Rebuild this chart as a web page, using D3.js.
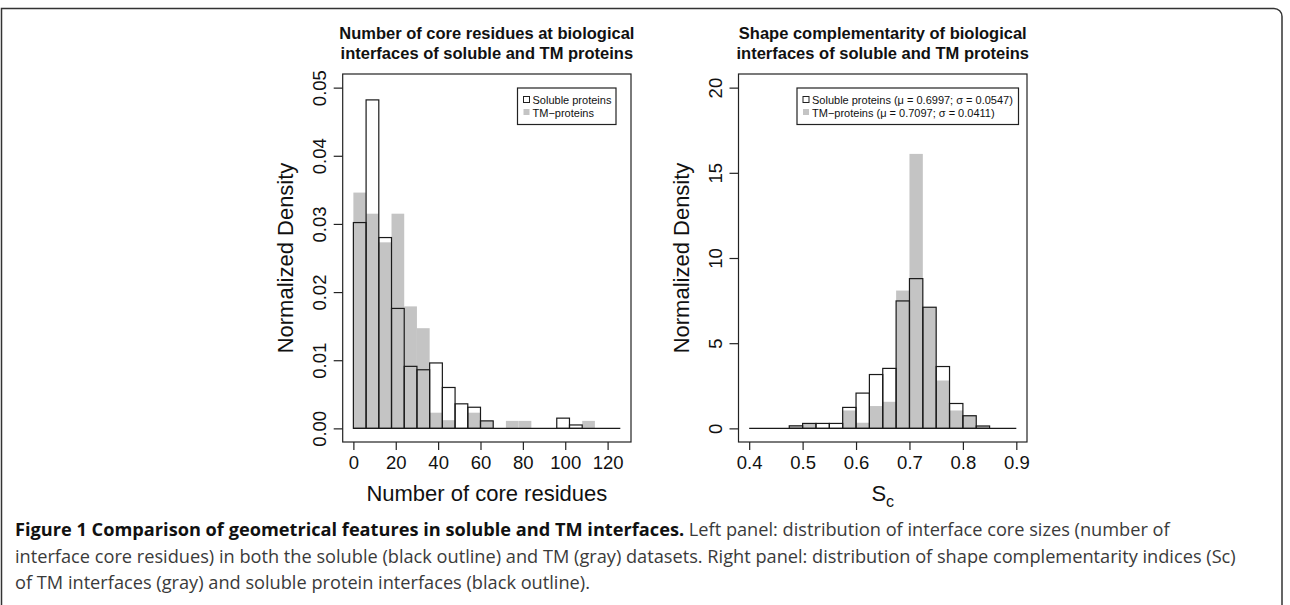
<!DOCTYPE html>
<html>
<head>
<meta charset="utf-8">
<script src="https://cdn.jsdelivr.net/npm/d3@7"></script>
<style>
  body { margin: 0; background: #fff; }
  svg text { font-family: "Liberation Sans", Arial, Helvetica, sans-serif; fill: #111; }
  .caption text { font-family: "Open Sans", sans-serif; fill: #333; }
</style>
</head>
<body>
<div id="chart"></div>
<script>
// left panel: number of core residues, bins of width 6 from 0 to 126
const coreBreaks = d3.range(0, 127, 6);
const coreSoluble = [0.0302, 0.0482, 0.0280, 0.0176, 0.0091, 0.0086, 0.0096, 0.0060, 0.0036, 0.0031,
                     0.0011, 0, 0, 0, 0, 0, 0.0015, 0.0005, 0, 0, 0];
const coreTM = [0.0346, 0.0315, 0.0273, 0.0315, 0.0179, 0.0147, 0.0023, 0.0012, 0, 0.0023,
                0.0011, 0, 0.0011, 0.0011, 0, 0, 0, 0, 0.0011, 0, 0];
const coreXTicks = [0, 20, 40, 60, 80, 100, 120];
const coreYTicks = [0, 0.01, 0.02, 0.03, 0.04, 0.05];

// right panel: shape complementarity, bins of width 0.025 from 0.4 to 0.9
const scBreaks = d3.range(0, 21).map(i => 0.4 + i * 0.025);
const scSoluble = [0, 0, 0, 0.15, 0.29, 0.29, 0.29, 1.23, 2.07, 3.16,
                   3.52, 7.48, 8.79, 7.11, 3.63, 1.46, 0.74, 0.14, 0, 0];
const scTM = [0, 0, 0, 0.15, 0.29, 0, 0, 1.05, 0.33, 1.31,
              1.56, 8.09, 16.11, 7.11, 2.81, 1.05, 0.78, 0.14, 0, 0];
const scXTicks = [0.4, 0.5, 0.6, 0.7, 0.8, 0.9];
const scYTicks = [0, 5, 10, 15, 20];

const captionLines = [
  [["Figure 1 Comparison of geometrical features in soluble and TM interfaces.", true],
   [" Left panel: distribution of interface core sizes (number of", false]],
  [["interface core residues) in both the soluble (black outline) and TM (gray) datasets. Right panel: distribution of shape complementarity indices (Sc)", false]],
  [["of TM interfaces (gray) and soluble protein interfaces (black outline).", false]]
];

const width = 1290, height = 605;
const gray = "#c4c4c4";

const svg = d3.select("#chart").append("svg")
    .attr("width", width)
    .attr("height", height);

// outer frame of the figure
svg.append("path")
    .attr("d", "M1.5,605 V8.5 H1274 A8,8 0 0 1 1282,16.5 V605")
    .attr("fill", "none")
    .attr("stroke", "#333")
    .attr("stroke-width", 1.5);

function drawPanel(opt) {
    const x = d3.scaleLinear().domain(opt.xDomain).range([opt.left, opt.right]);
    const y = d3.scaleLinear().domain(opt.yDomain).range([442, 74]);
    const g = svg.append("g");

    const bins = opt.soluble.map((v, i) => ({
        x0: opt.breaks[i], x1: opt.breaks[i + 1], sol: v, tm: opt.tm[i]
    }));

    // soluble white fill, then TM gray, then soluble outlines on top
    g.selectAll("rect.solfill").data(bins).enter().append("rect")
        .attr("class", "solfill")
        .attr("x", d => x(d.x0)).attr("width", d => x(d.x1) - x(d.x0))
        .attr("y", d => y(d.sol)).attr("height", d => y(0) - y(d.sol))
        .attr("fill", "#fff");

    g.selectAll("rect.tm").data(bins.filter(d => d.tm > 0)).enter().append("rect")
        .attr("class", "tm")
        .attr("x", d => x(d.x0)).attr("width", d => x(d.x1) - x(d.x0))
        .attr("y", d => y(d.tm)).attr("height", d => y(0) - y(d.tm))
        .attr("fill", gray);

    g.selectAll("rect.sol").data(bins.filter(d => d.sol > 0)).enter().append("rect")
        .attr("class", "sol")
        .attr("x", d => x(d.x0)).attr("width", d => x(d.x1) - x(d.x0))
        .attr("y", d => y(d.sol)).attr("height", d => y(0) - y(d.sol))
        .attr("fill", "none")
        .attr("stroke", "#1a1a1a")
        .attr("stroke-width", 1.2);

    // empty bins still leave their bottom edge, so one line along zero
    const br = opt.breaks;
    g.append("line")
        .attr("x1", x(br[0])).attr("x2", x(br[br.length - 1]))
        .attr("y1", y(0)).attr("y2", y(0))
        .attr("stroke", "#1a1a1a").attr("stroke-width", 1.2);

    // plot box
    g.append("rect")
        .attr("x", opt.left).attr("y", 74)
        .attr("width", opt.right - opt.left).attr("height", 368)
        .attr("fill", "none").attr("stroke", "#222").attr("stroke-width", 1.2);

    // x axis
    const xa = g.append("g")
        .attr("transform", "translate(0,442)")
        .call(d3.axisBottom(x).tickValues(opt.xTicks).tickSize(8).tickSizeOuter(0)
            .tickFormat(opt.xFormat));
    xa.select(".domain").remove();
    xa.selectAll("line").attr("stroke", "#222").attr("stroke-width", 1.2);
    xa.selectAll("text")
        .attr("y", 27).attr("dy", null)
        .style("font-size", "18.5px").attr("fill", "#111");

    // y axis, labels parallel to the axis like R
    const ya = g.append("g")
        .attr("transform", `translate(${opt.left},0)`)
        .call(d3.axisLeft(y).tickValues(opt.yTicks).tickSize(9).tickSizeOuter(0)
            .tickFormat(opt.yFormat));
    ya.select(".domain").remove();
    ya.selectAll("line").attr("stroke", "#222").attr("stroke-width", 1.2);
    ya.selectAll("text")
        .attr("transform", "rotate(-90)")
        .attr("x", 0).attr("y", -17).attr("dy", null)
        .attr("text-anchor", "middle")
        .style("font-size", "18.5px").attr("fill", "#111");

    const cx = (opt.left + opt.right) / 2;

    // titles
    opt.title.forEach((t, i) => {
        g.append("text")
            .attr("x", cx).attr("y", 39 + i * 20)
            .attr("text-anchor", "middle")
            .style("font-size", "16.5px").style("font-weight", "bold")
            .text(t);
    });

    // y axis title
    g.append("text")
        .attr("transform", `translate(${opt.left - 50},258) rotate(-90)`)
        .attr("text-anchor", "middle")
        .style("font-size", "22px")
        .text("Normalized Density");

    // x axis title
    const xt = g.append("text")
        .attr("x", cx).attr("y", 501)
        .attr("text-anchor", "middle")
        .style("font-size", "22px");
    opt.xTitle(xt);

    // legend
    const lg = g.append("g").attr("transform", `translate(${opt.legend.x},88)`);
    lg.append("rect")
        .attr("width", opt.legend.w).attr("height", 36.5)
        .attr("fill", "#fff").attr("stroke", "#222").attr("stroke-width", 1.2);
    opt.legend.labels.forEach((lab, i) => {
        lg.append("rect")
            .attr("x", 6).attr("y", 8.5 + i * 12.5)
            .attr("width", 6).attr("height", 6)
            .attr("fill", i === 0 ? "#fff" : gray)
            .attr("stroke", i === 0 ? "#222" : "none")
            .attr("stroke-width", 1);
        lg.append("text")
            .attr("x", 15).attr("y", 16 + i * 12.5)
            .style("font-size", "11px")
            .text(lab);
    });
}

drawPanel({
    left: 342.7, right: 631,
    xDomain: [-5.04, 131.04], yDomain: [-0.002, 0.052],
    breaks: coreBreaks, soluble: coreSoluble, tm: coreTM,
    xTicks: coreXTicks, yTicks: coreYTicks,
    xFormat: d3.format("d"), yFormat: d3.format(".2f"),
    title: ["Number of core residues at biological", "interfaces of soluble and TM proteins"],
    xTitle: t => t.text("Number of core residues"),
    legend: { x: 517.5, w: 98.5, labels: ["Soluble proteins", "TM\u2212proteins"] }
});

drawPanel({
    left: 738.5, right: 1027,
    xDomain: [0.38, 0.92], yDomain: [-0.8, 20.8],
    breaks: scBreaks, soluble: scSoluble, tm: scTM,
    xTicks: scXTicks, yTicks: scYTicks,
    xFormat: d3.format(".1f"), yFormat: d3.format("d"),
    title: ["Shape complementarity of biological", "interfaces of soluble and TM proteins"],
    xTitle: t => {
        t.append("tspan").text("S");
        t.append("tspan").attr("dy", 6).style("font-size", "16px").text("c");
    },
    legend: { x: 797, w: 221.5, labels: [
        "Soluble proteins (\u03bc = 0.6997; \u03c3 = 0.0547)",
        "TM\u2212proteins (\u03bc = 0.7097; \u03c3 = 0.0411)"] }
});

// figure caption
const cap = svg.append("g").attr("class", "caption");
captionLines.forEach((parts, i) => {
    const t = cap.append("text")
        .attr("x", 15).attr("y", 536 + i * 26.5)
        .style("font-size", "18.2px");
    parts.forEach(([s, bold]) => {
        t.append("tspan")
            .style("font-weight", bold ? "bold" : "normal")
            .attr("fill", bold ? "#111" : "#3a3a3a")
            .text(s);
    });
});
</script>
</body>
</html>
